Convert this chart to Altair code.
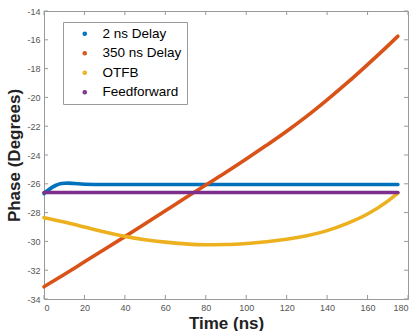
import altair as alt
import pandas as pd

series_names = ["2 ns Delay", "350 ns Delay", "OTFB", "Feedforward"]
series_colors = ["#0072BD", "#D95319", "#EDB120", "#7E2F8E"]

t_2ns = [0, 2, 4, 6, 8, 10, 12, 15, 20, 30, 40, 60, 80, 100, 120, 140, 160, 175]
v_2ns = [-26.68, -26.45, -26.25, -26.1, -26.0, -25.96, -25.95, -25.98, -26.03, -26.05, -26.05,
         -26.05, -26.05, -26.05, -26.05, -26.05, -26.05, -26.05]

t_350 = [0, 10, 20, 30, 40, 50, 60, 70, 80, 90, 100, 110, 120, 130, 140, 150, 160, 170, 175]
v_350 = [-33.15, -32.3, -31.42, -30.55, -29.67, -28.77, -27.87, -26.97, -26.08, -25.2, -24.28,
         -23.33, -22.35, -21.3, -20.17, -18.98, -17.72, -16.42, -15.75]

t_otfb = [0, 10, 20, 30, 40, 50, 60, 70, 80, 90, 100, 110, 120, 130, 140, 150, 160, 170, 175]
v_otfb = [-28.35, -28.66, -29.0, -29.35, -29.65, -29.88, -30.05, -30.17, -30.23, -30.22, -30.15,
          -30.02, -29.85, -29.6, -29.25, -28.75, -28.1, -27.2, -26.65]

t_ff = [0, 175]
v_ff = [-26.6, -26.6]

x_ticks = [0, 20, 40, 60, 80, 100, 120, 140, 160, 180]
y_ticks = [-34, -32, -30, -28, -26, -24, -22, -20, -18, -16, -14]

rows = []
for name, ts, vs in [(series_names[0], t_2ns, v_2ns), (series_names[1], t_350, v_350),
                     (series_names[2], t_otfb, v_otfb), (series_names[3], t_ff, v_ff)]:
    for i, (t, v) in enumerate(zip(ts, vs)):
        rows.append({"series": name, "t": t, "phase": v, "order": i})
df = pd.DataFrame(rows)

W, H = 364, 288
xs = alt.Scale(domain=[0, 180], nice=False)
ys = alt.Scale(domain=[-34, -14], nice=False)

x_axis = alt.Axis(values=x_ticks, labelExpr="'' + datum.value", ticks=False, domain=False,
                  grid=False, labelFontSize=9, labelColor="#555555", labelPadding=4,
                  labelOverlap=False,
                  labelFont="Liberation Sans", titleFont="Liberation Sans",
                  titleFontSize=17, titleFontWeight="bold", titleColor="#222222",
                  titlePadding=3)
y_axis = alt.Axis(values=y_ticks, labelExpr="'' + datum.value", ticks=False, domain=False,
                  grid=False, labelFontSize=9, labelColor="#555555", labelPadding=4,
                  labelOverlap=False,
                  labelFont="Liberation Sans", titleFont="Liberation Sans",
                  titleFontSize=17, titleFontWeight="bold", titleColor="#222222",
                  titlePadding=3)

lines = alt.Chart(df).mark_line(strokeWidth=3.6, interpolate="monotone", strokeCap="round").encode(
    x=alt.X("t:Q", scale=xs, title="Time (ns)", axis=x_axis),
    y=alt.Y("phase:Q", scale=ys, title="Phase (Degrees)", axis=y_axis),
    color=alt.Color("series:N", scale=alt.Scale(domain=series_names, range=series_colors),
                    sort=series_names,
                    legend=alt.Legend(title=None, orient="none", legendX=19, legendY=11,
                                      symbolType="circle", symbolSize=4, symbolStrokeWidth=2.6,
                                      symbolOffset=10, labelOffset=11,
                                      labelFontSize=13.5, labelFont="Liberation Sans", labelColor="#000000",
                                      rowPadding=4.5, padding=5, strokeColor="#999999",
                                      fillColor="#ffffff", cornerRadius=0)),
    order="order:Q",
    detail="series:N",
)

ytick_df = pd.DataFrame({"v": y_ticks})
xtick_df = pd.DataFrame({"v": x_ticks})
tc = "#999999"
yl = alt.Chart(ytick_df).mark_rule(color=tc, strokeWidth=1).encode(
    y=alt.Y("v:Q", scale=ys, title="Phase (Degrees)", axis=y_axis), x=alt.value(0), x2=alt.value(4))
yr = alt.Chart(ytick_df).mark_rule(color=tc, strokeWidth=1).encode(
    y=alt.Y("v:Q", scale=ys, title="Phase (Degrees)", axis=y_axis), x=alt.value(W - 4), x2=alt.value(W))
xb = alt.Chart(xtick_df).mark_rule(color=tc, strokeWidth=1).encode(
    x=alt.X("v:Q", scale=xs, title="Time (ns)", axis=x_axis), y=alt.value(H - 4), y2=alt.value(H))
xt = alt.Chart(xtick_df).mark_rule(color=tc, strokeWidth=1).encode(
    x=alt.X("v:Q", scale=xs, title="Time (ns)", axis=x_axis), y=alt.value(0), y2=alt.value(4))

chart = alt.layer(lines, yl, yr, xb, xt).properties(
    width=W, height=H,
    autosize=alt.AutoSizeParams(type="none"),
    padding={"left": 44, "top": 11, "right": 7, "bottom": 32},
    background="#ffffff",
).configure_view(stroke="#999999", strokeWidth=1)

chart.save("out.html", embed_options={"renderer": "svg", "actions": False})
